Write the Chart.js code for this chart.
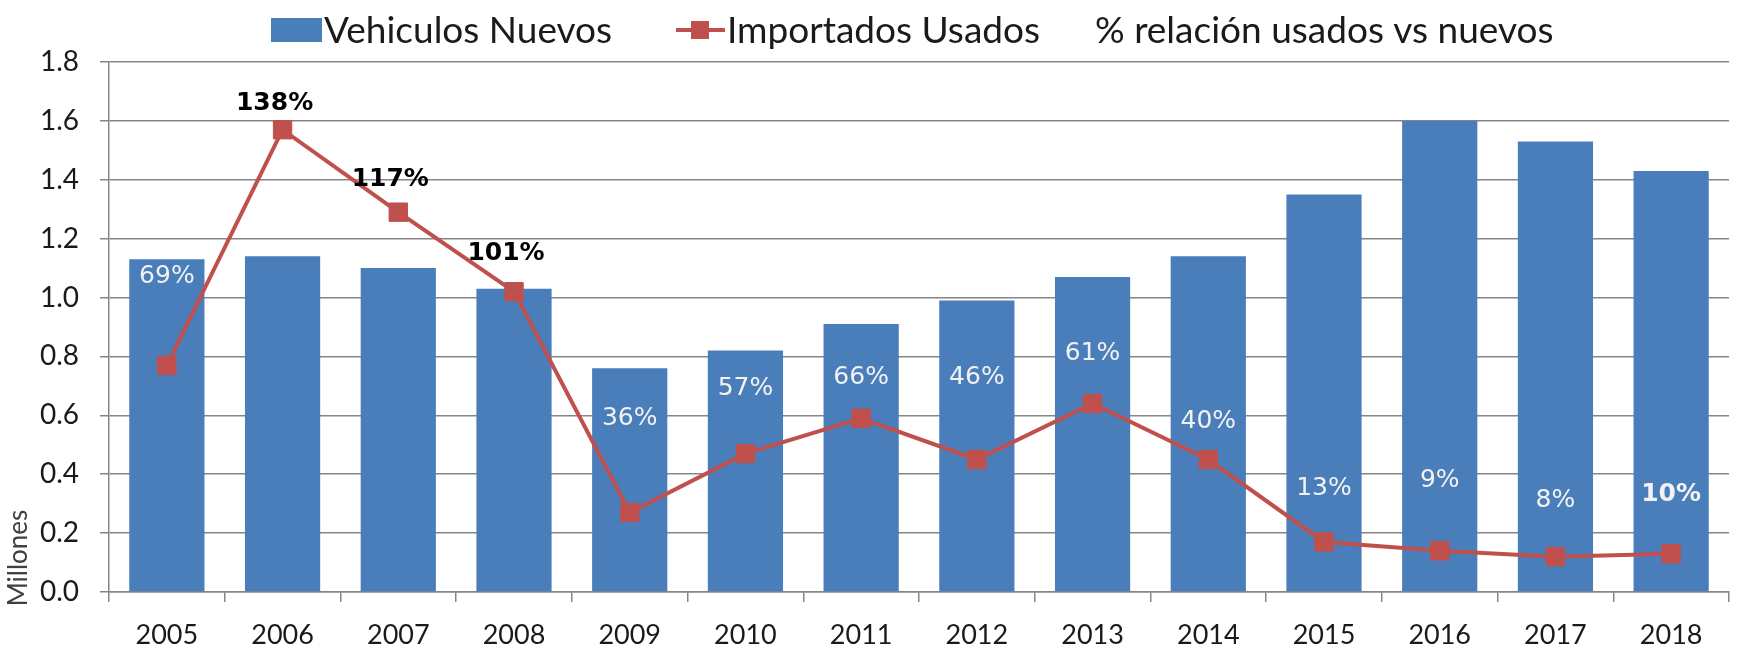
<!DOCTYPE html>
<html>
<head>
<meta charset="utf-8">
<script src="https://cdn.jsdelivr.net/npm/chart.js@4.4.1/dist/chart.umd.min.js"></script>
<style>
  html, body { margin: 0; padding: 0; background: #fff; }
  #wrap { width: 1743px; height: 648px; }
</style>
</head>
<body>
<div id="wrap"><canvas id="chart"></canvas></div>
<script>
const years = ['2005', '2006', '2007', '2008', '2009', '2010', '2011', '2012', '2013', '2014', '2015', '2016', '2017', '2018'];
const nuevos = [1.13, 1.14, 1.10, 1.03, 0.76, 0.82, 0.91, 0.99, 1.07, 1.14, 1.35, 1.60, 1.53, 1.43];
const usados = [0.77, 1.57, 1.29, 1.02, 0.27, 0.47, 0.59, 0.45, 0.64, 0.45, 0.17, 0.14, 0.12, 0.13];
const ratioText = ['69%', '138%', '117%', '101%', '36%', '57%', '66%', '46%', '61%', '40%', '13%', '9%', '8%', '10%'];
// height (in millions) where each % label sits
const ratioAt = [1.07, 1.66, 1.40, 1.15, 0.59, 0.69, 0.73, 0.73, 0.81, 0.58, 0.35, 0.38, 0.31, 0.33];
const ratioBold = [false, true, true, true, false, false, false, false, false, false, false, false, false, true];

const blue = '#4a7ebb';
const red = '#c0504d';
const gridColor = '#858585';

const ratioLabels = {
    id: 'ratioLabels',
    afterDatasetsDraw(chart) {
        const { ctx, scales } = chart;
        ctx.save();
        ctx.textAlign = 'center';
        ctx.textBaseline = 'middle';
        ratioText.forEach((txt, i) => {
            const x = scales.x.getPixelForValue(i);
            const y = scales.y.getPixelForValue(ratioAt[i]);
            const dark = ratioBold[i] && i < 4;
            ctx.font = (ratioBold[i] ? 'bold ' : '') + '25px "DejaVu Sans"';
            ctx.fillStyle = dark ? '#000' : '#f2f2f2';
            ctx.fillText(txt, dark ? x - 8 : x, y);
        });
        ctx.restore();
    },
};

// legend row and the small axis unit label
const topLegend = {
    id: 'topLegend',
    afterDraw(chart) {
        const { ctx } = chart;
        const byType = (t) => chart.data.datasets.find((d) => d.type === t && d.data.length);
        const extra = chart.data.datasets.find((d) => !d.data.length);
        ctx.save();
        ctx.font = '37px Lato';
        ctx.textBaseline = 'middle';

        ctx.fillStyle = blue;
        ctx.fillRect(271, 18, 51, 24);
        ctx.fillStyle = '#1a1a1a';
        ctx.fillText(byType('bar').label, 324, 31);

        ctx.strokeStyle = red;
        ctx.lineWidth = 4;
        ctx.beginPath();
        ctx.moveTo(676, 30);
        ctx.lineTo(725, 30);
        ctx.stroke();
        ctx.fillStyle = red;
        ctx.fillRect(691, 21, 18, 18);
        ctx.fillStyle = '#1a1a1a';
        ctx.fillText(byType('line').label, 727, 31);

        ctx.fillText(extra.label, 1095, 31);

        ctx.translate(19, 558);
        ctx.rotate(-Math.PI / 2);
        ctx.textAlign = 'center';
        ctx.font = '26px Lato';
        ctx.fillStyle = '#404040';
        ctx.fillText('Millones', 0, 0);
        ctx.restore();
    },
};

new Chart(document.getElementById('chart'), {
    data: {
        labels: years,
        datasets: [
            {
                type: 'line',
                label: 'Importados Usados',
                data: usados,
                borderColor: red,
                backgroundColor: red,
                borderWidth: 4,
                pointStyle: 'rect',
                pointRadius: 13,
                pointBorderWidth: 1,
                tension: 0,
                order: 1,
            },
            {
                type: 'bar',
                label: 'Vehiculos Nuevos',
                data: nuevos,
                backgroundColor: blue,
                barPercentage: 0.65,
                categoryPercentage: 1,
                order: 2,
            },
            {
                type: 'line',
                label: '% relación usados vs nuevos',
                data: [],
                showLine: false,
            },
        ],
    },
    options: {
        responsive: true,
        maintainAspectRatio: false,
        animation: false,
        layout: { padding: { top: 62, right: -8, left: 0, bottom: 0 } },
        plugins: {
            legend: { display: false },
            tooltip: { enabled: false },
        },
        scales: {
            x: {
                offset: true,
                grid: {
                    offset: true,
                    drawOnChartArea: false,
                    color: gridColor,
                    lineWidth: 1.5,
                    tickLength: 10,
                },
                border: { color: gridColor, width: 1.5 },
                ticks: {
                    color: '#1a1a1a',
                    font: { family: 'Lato', size: 27 },
                    padding: 17,
                    maxRotation: 0,
                },
                afterFit(scale) { scale.height = 56; },
            },
            y: {
                min: 0,
                max: 1.8,
                grid: { color: gridColor, lineWidth: 1.5, tickLength: 9 },
                border: { color: gridColor, width: 1.5 },
                ticks: {
                    stepSize: 0.2,
                    color: '#1a1a1a',
                    font: { family: 'Lato', size: 28 },
                    padding: 21,
                    callback: (v) => v.toFixed(1),
                },
                afterFit(scale) { scale.width = 109; },
            },
        },
    },
    plugins: [ratioLabels, topLegend],
});
</script>
</body>
</html>
